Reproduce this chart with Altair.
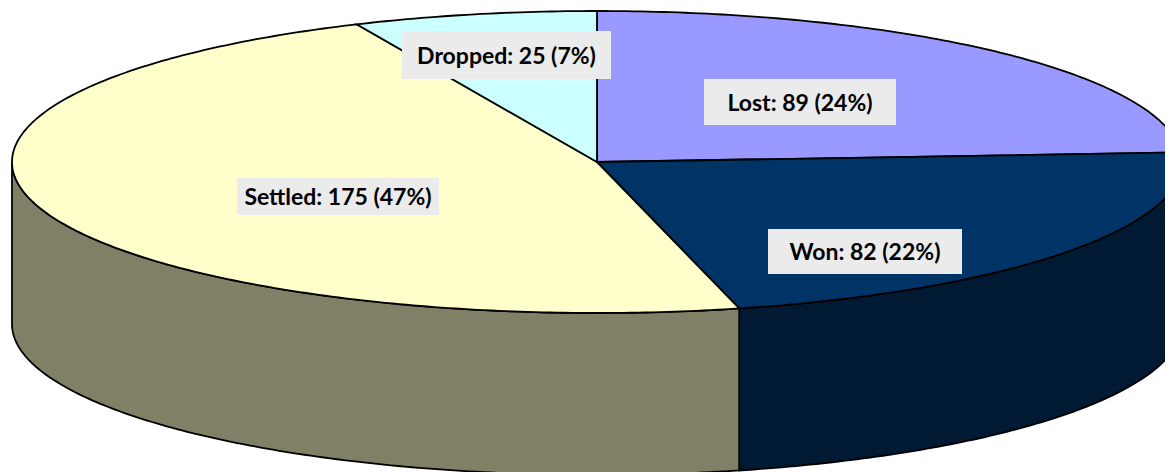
import numpy as np
import pandas as pd
import altair as alt

categories = ["Lost", "Won", "Settled", "Dropped"]
counts = [89, 82, 175, 25]
percents = [24, 22, 47, 7]
top_colors = ["#9999FF", "#003366", "#FFFFCC", "#CCFFFF"]
wall_colors = {"Won": "#001A33", "Settled": "#808066"}
box_left = [704, 768, 237, 402]
box_right = [896, 962, 439, 611]
box_top = [79, 229, 178, 31]
box_bottom = [125, 274, 215, 79]

# layout in page pixels
CX, CY, A, B, DEPTH = 597.0, 162.0, 585.0, 151.0, 162.0
W, H = 1157, 464
x_scale = alt.Scale(domain=[8, 8 + W], range=[0, W], nice=False, zero=False)
y_scale = alt.Scale(domain=[8, 8 + H], range=[0, H], nice=False, zero=False)

total = sum(counts)
edges = np.concatenate([[0.0], np.cumsum(counts)]) / total * 2 * np.pi


def rim(t0, t1, drop=0.0):
    n = max(int(abs(t1 - t0) * 80), 2)
    t = np.linspace(t0, t1, n)
    return CX + A * np.sin(t), CY - B * np.cos(t) + drop


def shape(xs, ys, fill):
    df = pd.DataFrame({"x": xs, "y": ys, "i": np.arange(len(xs))})
    return (
        alt.Chart(df)
        .mark_line(fill=fill, stroke="black", strokeWidth=1.8, clip=True, interpolate="linear-closed")
        .encode(
            x=alt.X("x:Q", scale=x_scale, axis=None),
            y=alt.Y("y:Q", scale=y_scale, axis=None),
            order="i:Q",
        )
    )


layers = []

# side walls (visible front half only)
for name, lo, hi in [
    ("Won", np.pi / 2, edges[2]),
    ("Settled", edges[2], 3 * np.pi / 2),
]:
    x0, y0 = rim(lo, hi)
    x1, y1 = rim(hi, lo, DEPTH)
    layers.append(shape(np.r_[x0, x1], np.r_[y0, y1], wall_colors[name]))

# top face
for i, name in enumerate(categories):
    xs, ys = rim(edges[i], edges[i + 1])
    layers.append(shape(np.r_[CX, xs], np.r_[CY, ys], top_colors[i]))

labels = pd.DataFrame(
    {
        "label": [f"{c}: {n} ({p}%)" for c, n, p in zip(categories, counts, percents)],
        "l": box_left,
        "r": box_right,
        "t": box_top,
        "b": box_bottom,
    }
)
labels["cx"] = (labels.l + labels.r) / 2
labels["cy"] = (labels.t + labels.b) / 2

boxes = (
    alt.Chart(labels)
    .mark_rect(color="#EBEBEB")
    .encode(
        x=alt.X("l:Q", scale=x_scale, axis=None),
        x2="r:Q",
        y=alt.Y("t:Q", scale=y_scale, axis=None),
        y2="b:Q",
    )
)
texts = (
    alt.Chart(labels)
    .mark_text(font="Lato", fontWeight="bold", fontSize=23, dy=1.5, color="black", align="center", baseline="middle")
    .encode(
        x=alt.X("cx:Q", scale=x_scale, axis=None),
        y=alt.Y("cy:Q", scale=y_scale, axis=None),
        text="label:N",
    )
)

chart = (
    alt.layer(*layers, boxes, texts)
    .properties(width=W, height=H, padding=0, autosize=alt.AutoSizeParams(type="none"))
    .configure_view(stroke=None)
)
chart.save("out.html", embed_options={"renderer": "svg", "actions": False})
